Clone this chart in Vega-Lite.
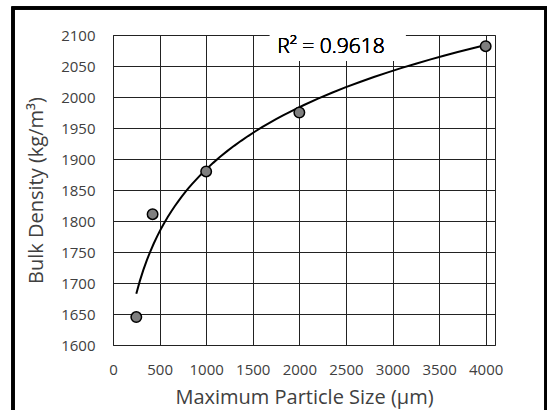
{
  "$schema": "https://vega.github.io/schema/vega-lite/v6.json",
  "width": 382,
  "height": 310,
  "autosize": "none",
  "padding": {"left": 113, "top": 35, "right": 52, "bottom": 65},
  "background": "white",
  "config": {
    "font": "Open Sans",
    "view": {"stroke": "#222", "strokeWidth": 1},
    "axis": {"gridColor": "#222", "gridOpacity": 1, "gridWidth": 1, "domain": false, "ticks": false, "labelColor": "#404040", "titleColor": "#404040", "labelFont": "Open Sans", "titleFont": "Open Sans", "titleFontWeight": "normal", "labelOverlap": false, "labelFlush": false, "format": "d"}
  },
  "data": {"values": [
    {"size": 250, "density": 1645},
    {"size": 425, "density": 1811},
    {"size": 1000, "density": 1880},
    {"size": 2000, "density": 1975},
    {"size": 4000, "density": 2082}
  ]},
  "layer": [
    {
      "mark": {"type": "rect", "fillOpacity": 0, "stroke": "black", "strokeWidth": 3, "clip": false},
      "encoding": {
        "x": {"value": -100},
        "x2": {"value": 433},
        "y": {"value": -27},
        "y2": {"value": 400}
      }
    },
    {
      "mark": {"type": "point", "opacity": 0},
      "encoding": {
        "x": {
          "field": "size", "type": "quantitative",
          "scale": {"domain": [0, 4100], "nice": false, "zero": false},
          "axis": {"values": [0, 500, 1000, 1500, 2000, 2500, 3000, 3500, 4000], "tickCount": 9, "labelFontSize": 15, "labelPadding": 17, "title": "Maximum Particle Size (µm)", "titleFontSize": 20, "titlePadding": 10, "grid": true}
        },
        "y": {
          "field": "density", "type": "quantitative",
          "scale": {"domain": [1600, 2100], "nice": false, "zero": false},
          "axis": {"values": [1600, 1650, 1700, 1750, 1800, 1850, 1900, 1950, 2000, 2050, 2100], "tickCount": 11, "labelFontSize": 15, "labelPadding": 18, "title": "Bulk Density (kg/m³)", "titleFontSize": 20, "titlePadding": 14, "grid": true}
        }
      }
    },
    {
      "mark": {"type": "rect", "fill": "white"},
      "encoding": {
        "x": {"datum": 1684, "type": "quantitative"},
        "x2": {"datum": 3138},
        "y": {"datum": 2058, "type": "quantitative"},
        "y2": {"datum": 2110}
      }
    },
    {
      "mark": {"type": "text", "fontSize": 21, "font": "Open Sans", "fontWeight": 300, "color": "black", "align": "center", "baseline": "alphabetic"},
      "encoding": {
        "x": {"datum": 2340, "type": "quantitative"},
        "y": {"datum": 2071, "type": "quantitative"},
        "text": {"value": "R² = 0.9618"}
      }
    },
    {
      "transform": [{"regression": "density", "on": "size", "method": "log"}],
      "mark": {"type": "line", "color": "black", "strokeWidth": 2},
      "encoding": {
        "x": {"field": "size", "type": "quantitative"},
        "y": {"field": "density", "type": "quantitative"}
      }
    },
    {
      "mark": {"type": "point", "filled": true, "fill": "#7f7f7f", "stroke": "black", "strokeWidth": 1.5, "size": 110, "opacity": 1},
      "encoding": {
        "x": {"field": "size", "type": "quantitative"},
        "y": {"field": "density", "type": "quantitative"}
      }
    }
  ]
}
